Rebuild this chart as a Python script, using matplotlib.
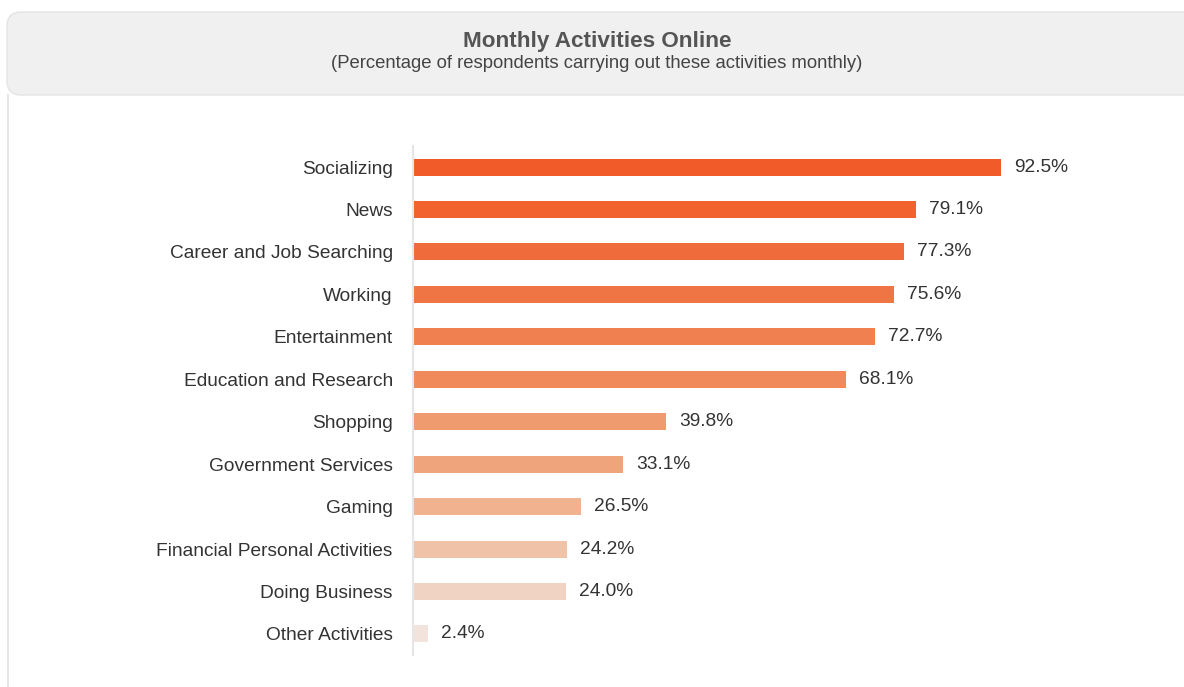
import matplotlib
matplotlib.use("Agg")
import matplotlib.pyplot as plt
from matplotlib.patches import FancyBboxPatch
from matplotlib.lines import Line2D

plt.rcParams['font.family'] = ['Liberation Sans', 'DejaVu Sans']

activities = ['Socializing', 'News', 'Career and Job Searching', 'Working',
              'Entertainment', 'Education and Research', 'Shopping',
              'Government Services', 'Gaming', 'Financial Personal Activities',
              'Doing Business', 'Other Activities']
pct = [92.5, 79.1, 77.3, 75.6, 72.7, 68.1, 39.8, 33.1, 26.5, 24.2, 24.0, 2.4]
bar_colors = ['#F15A29', '#F1622F', '#F06B3C', '#F07545', '#F0804F', '#F08A5A',
              '#F09A70', '#F0A47C', '#F0B28F', '#F0C2A8', '#F0D3C3', '#F2E4DC']

W, H = 1184, 687
fig = plt.figure(figsize=(W / 100, H / 100), dpi=100)
fig.patch.set_facecolor('white')

# header box + card border
hdr = FancyBboxPatch((7 / W, (H - 95) / H), 1.2, 83 / H,
                     boxstyle="round,pad=0,rounding_size=0.012",
                     transform=fig.transFigure, facecolor='#F0F0F0',
                     edgecolor='#E4E4E4', linewidth=1.0, mutation_aspect=W / H)
fig.patches.append(hdr)
fig.lines.append(Line2D([7.5 / W, 7.5 / W], [0, (H - 95) / H], transform=fig.transFigure,
                        color='#E6E6E6', linewidth=1.5))

fig.text(597 / W, 1 - 41 / H, 'Monthly Activities Online', ha='center', va='center',
         fontsize=16.2, fontweight='bold', color='#555555')
fig.text(597 / W, 1 - 64 / H, '(Percentage of respondents carrying out these activities monthly)',
         ha='center', va='center', fontsize=13.3, color='#444444')

ax = fig.add_axes([413 / W, (H - 655.2) / H, 635.7 / W, 509.4 / H])
y = list(range(len(activities)))
ax.barh(y, pct, height=0.4, color=bar_colors)
ax.set_xlim(0, 100)
ax.set_ylim(len(activities) - 0.5, -0.5)
ax.set_yticks(y)
ax.set_yticklabels(activities, fontsize=13.8, color='#333333')
ax.tick_params(axis='y', length=0, pad=14.5)
ax.set_xticks([])
for s in ['top', 'right', 'bottom']:
    ax.spines[s].set_visible(False)
ax.spines['left'].set_color('#E6E6E6')
ax.spines['left'].set_linewidth(1.5)
ax.set_facecolor('none')

for yi, v in zip(y, pct):
    ax.annotate(f'{v:.1f}%', (v, yi), xytext=(13, 0), textcoords='offset pixels',
                va='center', ha='left', fontsize=13.8, color='#333333')

fig.savefig('out.png', dpi=100)
